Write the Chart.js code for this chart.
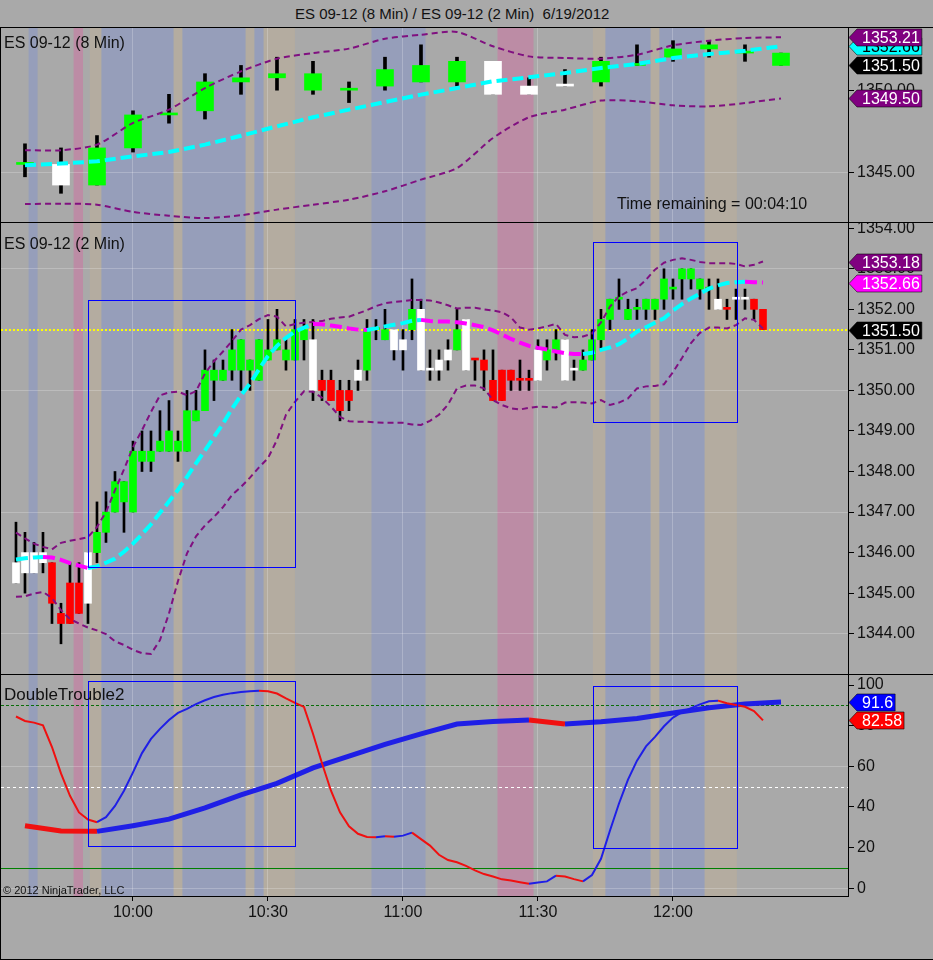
<!DOCTYPE html>
<html>
<head>
<meta charset="utf-8">
<title>ES 09-12 (8 Min) / ES 09-12 (2 Min)  6/19/2012</title>
<script src="https://cdn.jsdelivr.net/npm/chart.js@4.4.1/dist/chart.umd.min.js"></script>
<style>
  html, body { margin: 0; padding: 0; }
  body { width: 933px; height: 960px; background: #a9a9a9; position: relative; overflow: hidden;
         font-family: "Liberation Sans", Arial, sans-serif; color: #111; }
  canvas { position: absolute; left: 0; }
  .line { position: absolute; background: #000; }
  .txt { position: absolute; white-space: pre; font-size: 16px; line-height: 16px; }
</style>
</head>
<body>
<canvas id="top" width="933" height="194" style="top:28px"></canvas>
<canvas id="mid" width="933" height="451" style="top:223px"></canvas>
<canvas id="bot" width="933" height="285" style="top:675px"></canvas>

<div class="line" style="left:0;top:27px;width:933px;height:1px"></div>
<div class="line" style="left:0;top:222px;width:933px;height:1px"></div>
<div class="line" style="left:0;top:674px;width:933px;height:1px"></div>
<div class="line" style="left:0;top:27px;width:1px;height:933px"></div>
<div class="line" style="left:0;top:959px;width:933px;height:1px"></div>

<div class="txt" style="left:295px;top:6px;font-size:15px;line-height:15px">ES 09-12 (8 Min) / ES 09-12 (2 Min)  6/19/2012</div>
<div class="txt" style="left:4px;top:35px">ES 09-12 (8 Min)</div>
<div class="txt" style="left:617px;top:196px">Time remaining = 00:04:10</div>
<div class="txt" style="left:4px;top:236px">ES 09-12 (2 Min)</div>
<div class="txt" style="left:4px;top:686px;font-size:17px;line-height:17px">DoubleTrouble2</div>
<div class="txt" style="left:3px;top:885px;font-size:11px;line-height:11px">© 2012 NinjaTrader, LLC</div>

<script>
// ---- data ----
const timeTicks = ['10:00', '10:30', '11:00', '11:30', '12:00'];
const first8 = '9:36', first2 = '9:34';

// 8 min bars
const o8 = [1345.50, 1345.50, 1344.25, 1346.50, 1348.50, 1348.75, 1350.50, 1350.75, 1350.00, 1350.00, 1350.25,
            1350.50, 1350.50, 1351.75, 1350.25, 1350.25, 1350.50, 1351.50, 1352.00, 1352.50, 1352.25, 1352.25];
const h8 = [1346.75, 1346.50, 1347.25, 1348.75, 1349.75, 1351.00, 1351.50, 1352.00, 1351.75, 1350.50, 1352.00,
            1352.75, 1352.00, 1351.75, 1350.75, 1351.25, 1352.00, 1352.75, 1353.00, 1353.00, 1352.75, 1352.25];
const l8 = [1344.75, 1343.75, 1344.25, 1346.25, 1348.00, 1348.25, 1349.75, 1350.00, 1349.75, 1349.25, 1350.00,
            1350.50, 1350.25, 1349.75, 1349.75, 1350.25, 1350.25, 1351.50, 1351.75, 1352.00, 1351.75, 1351.50];
const c8 = [1345.50, 1344.25, 1346.50, 1348.50, 1348.50, 1350.50, 1350.75, 1351.00, 1351.00, 1350.00, 1351.25,
            1351.50, 1351.75, 1349.75, 1349.75, 1350.25, 1351.75, 1351.50, 1352.50, 1352.75, 1352.25, 1351.50];
const col8 = 'gwgggggggggggwwwgggggg'.split('');
const sma8 = [1345.45, 1345.55, 1345.69, 1345.99, 1346.25, 1346.70, 1347.24, 1347.81, 1348.36, 1348.82, 1349.28,
              1349.73, 1350.13, 1350.54, 1350.78, 1351.04, 1351.35, 1351.59, 1351.95, 1352.19, 1352.39, 1352.66];
const upper8 = [1346.36, 1346.36, 1346.70, 1348.01, 1348.82, 1350.13, 1351.14, 1351.91, 1352.25, 1352.52, 1353.12,
                1353.36, 1353.53, 1352.66, 1352.05, 1351.95, 1351.91, 1352.15, 1352.72, 1353.00, 1353.16, 1353.21];
const lower8 = [1343.10, 1343.12, 1343.06, 1342.62, 1342.39, 1342.25, 1342.42, 1342.76, 1343.06, 1343.36, 1343.87,
                1344.58, 1345.28, 1347.10, 1348.36, 1348.82, 1349.37, 1349.33, 1349.08, 1349.02, 1349.22, 1349.50];

// 2 min bars
const o2 = [1345.75, 1346.00, 1346.00, 1346.00, 1345.75, 1344.50, 1345.25, 1345.25, 1346.00, 1346.00,
            1346.50, 1347.00, 1347.25, 1347.00, 1348.25, 1348.25, 1348.50, 1348.50, 1348.50, 1348.50,
            1349.25, 1349.50, 1350.25, 1350.25, 1350.50, 1350.50, 1350.50, 1350.25, 1350.75, 1351.00,
            1350.75, 1350.75, 1351.25, 1351.25, 1350.25, 1350.25, 1350.00, 1350.00, 1350.50, 1350.50,
            1351.50, 1351.25, 1351.50, 1351.25, 1351.50, 1352.00, 1350.50, 1350.75, 1351.00, 1351.00,
            1351.75, 1350.75, 1350.75, 1350.25, 1350.50, 1350.50, 1350.25, 1350.25, 1351.00, 1350.75,
            1351.00, 1351.25, 1350.50, 1350.50, 1350.75, 1351.25, 1351.75, 1352.25, 1351.75, 1352.00,
            1352.00, 1352.00, 1352.25, 1352.50, 1352.75, 1352.75, 1352.50, 1352.50, 1352.25, 1352.00,
            1352.25, 1352.25, 1352.25, 1352.00];
const h2 = [1346.75, 1346.50, 1346.25, 1346.50, 1345.75, 1344.75, 1345.75, 1345.75, 1346.00, 1347.25,
            1347.50, 1348.00, 1347.75, 1348.75, 1349.00, 1349.00, 1349.50, 1349.75, 1349.00, 1350.00,
            1350.00, 1351.00, 1350.75, 1350.75, 1351.50, 1351.25, 1350.75, 1351.25, 1351.75, 1352.00,
            1351.25, 1351.75, 1351.75, 1351.75, 1350.50, 1350.50, 1350.25, 1350.25, 1350.75, 1351.75,
            1351.75, 1352.00, 1351.50, 1351.50, 1352.75, 1352.25, 1351.00, 1351.00, 1351.25, 1352.00,
            1351.75, 1350.75, 1351.00, 1351.00, 1350.50, 1350.50, 1350.75, 1350.50, 1351.25, 1351.25,
            1351.50, 1351.25, 1350.75, 1351.00, 1351.50, 1352.00, 1352.25, 1352.75, 1352.25, 1352.25,
            1352.25, 1352.25, 1353.00, 1352.75, 1353.00, 1353.00, 1352.75, 1352.75, 1352.75, 1352.25,
            1352.50, 1352.50, 1352.25, 1352.00];
const l2 = [1345.25, 1345.00, 1345.50, 1345.50, 1344.25, 1343.75, 1344.25, 1344.50, 1344.25, 1345.75,
            1346.25, 1347.00, 1346.50, 1347.00, 1348.00, 1348.00, 1348.50, 1348.50, 1348.25, 1348.50,
            1349.25, 1349.50, 1349.75, 1350.25, 1350.25, 1350.00, 1350.00, 1350.25, 1350.75, 1351.00,
            1350.50, 1350.75, 1350.75, 1349.75, 1349.75, 1349.75, 1349.25, 1349.50, 1350.00, 1350.25,
            1351.25, 1351.25, 1350.75, 1350.50, 1351.25, 1350.50, 1350.25, 1350.25, 1350.50, 1351.00,
            1350.50, 1350.25, 1350.00, 1349.75, 1349.75, 1350.00, 1350.00, 1350.00, 1350.25, 1350.50,
            1350.75, 1350.25, 1350.25, 1350.50, 1350.75, 1351.00, 1351.50, 1352.00, 1351.75, 1351.75,
            1351.75, 1351.75, 1352.00, 1352.25, 1352.25, 1352.50, 1352.25, 1352.00, 1352.00, 1351.75,
            1351.75, 1352.00, 1351.75, 1351.50];
const c2 = [1345.25, 1345.50, 1345.50, 1345.75, 1344.75, 1344.25, 1344.25, 1344.50, 1344.75, 1346.50,
            1347.00, 1347.75, 1347.75, 1348.50, 1348.50, 1348.50, 1348.75, 1349.00, 1348.75, 1349.50,
            1349.50, 1350.50, 1350.50, 1350.50, 1351.00, 1351.25, 1350.75, 1351.25, 1351.00, 1351.25,
            1351.00, 1351.50, 1351.50, 1350.00, 1350.00, 1349.75, 1349.50, 1349.75, 1350.25, 1351.50,
            1351.50, 1351.50, 1351.00, 1351.00, 1352.00, 1350.50, 1350.50, 1350.50, 1350.75, 1351.50,
            1350.50, 1350.75, 1350.50, 1349.75, 1349.75, 1350.25, 1350.25, 1350.25, 1350.25, 1351.00,
            1351.25, 1350.25, 1350.50, 1350.75, 1351.25, 1351.75, 1352.25, 1352.25, 1352.00, 1352.00,
            1352.25, 1352.25, 1352.75, 1352.50, 1353.00, 1353.00, 1352.75, 1352.50, 1352.00, 1352.00,
            1352.25, 1352.25, 1352.00, 1351.50];
const col2 = ('wwwwrrrrw' + 'gggggggggggggggggggggggg' + 'wrrrrwgggwwgwwwwgwrrrrrrrwggww' +
              'ggggggggggggggg' + 'wrwwrr').split('');
const sma2 = [1345.83, 1345.86, 1345.88, 1345.89, 1345.88, 1345.82, 1345.74, 1345.68, 1345.62, 1345.66,
              1345.75, 1345.85, 1346.02, 1346.22, 1346.45, 1346.70, 1346.98, 1347.26, 1347.55, 1347.87,
              1348.20, 1348.52, 1348.85, 1349.18, 1349.55, 1349.88, 1350.17, 1350.52, 1350.85, 1351.10,
              1351.30, 1351.45, 1351.55, 1351.64, 1351.63, 1351.60, 1351.57, 1351.53, 1351.50, 1351.49,
              1351.53, 1351.58, 1351.62, 1351.66, 1351.72, 1351.74, 1351.71, 1351.70, 1351.70, 1351.68,
              1351.65, 1351.61, 1351.56, 1351.48, 1351.38, 1351.27, 1351.18, 1351.10, 1351.05, 1351.01,
              1350.96, 1350.92, 1350.90, 1350.90, 1350.93, 1351.00, 1351.06, 1351.14, 1351.28, 1351.45,
              1351.56, 1351.67, 1351.78, 1351.97, 1352.13, 1352.27, 1352.39, 1352.51, 1352.59, 1352.65,
              1352.67, 1352.68, 1352.67, 1352.66];
const upper2 = [1346.49, 1346.35, 1346.22, 1346.14, 1346.08, 1346.24, 1346.29, 1346.33, 1346.38, 1346.63,
                1347.00, 1347.54, 1348.05, 1348.60, 1349.02, 1349.47, 1349.88, 1349.95, 1349.97, 1349.88,
                1349.98, 1350.42, 1350.72, 1350.96, 1351.22, 1351.50, 1351.61, 1351.76, 1351.86, 1351.82,
                1351.58, 1351.64, 1351.67, 1351.69, 1351.71, 1351.77, 1351.80, 1351.82, 1351.90, 1351.98,
                1352.08, 1352.15, 1352.18, 1352.20, 1352.23, 1352.23, 1352.22, 1352.17, 1352.10, 1352.02,
                1352.04, 1352.04, 1352.00, 1351.97, 1351.93, 1351.80, 1351.55, 1351.50, 1351.53, 1351.58,
                1351.64, 1351.37, 1351.31, 1351.33, 1351.40, 1351.68, 1352.07, 1352.32, 1352.44, 1352.52,
                1352.73, 1352.98, 1353.15, 1353.22, 1353.26, 1353.22, 1353.17, 1353.14, 1353.14, 1353.14,
                1353.12, 1353.06, 1353.10, 1353.18];
const lower2 = [1344.91, 1344.92, 1344.99, 1345.03, 1344.88, 1344.58, 1344.36, 1344.25, 1344.15, 1344.08,
                1343.99, 1343.81, 1343.72, 1343.60, 1343.52, 1343.50, 1343.84, 1344.50, 1345.30, 1345.98,
                1346.40, 1346.67, 1346.88, 1347.12, 1347.42, 1347.62, 1347.85, 1348.10, 1348.33, 1348.78,
                1349.40, 1349.72, 1349.98, 1349.97, 1349.82, 1349.60, 1349.35, 1349.24, 1349.23, 1349.23,
                1349.21, 1349.20, 1349.20, 1349.20, 1349.16, 1349.15, 1349.25, 1349.40, 1349.65, 1350.05,
                1350.12, 1350.12, 1350.05, 1349.76, 1349.64, 1349.56, 1349.53, 1349.57, 1349.60, 1349.59,
                1349.58, 1349.70, 1349.71, 1349.70, 1349.68, 1349.76, 1349.64, 1349.70, 1349.80, 1350.05,
                1350.10, 1350.11, 1350.15, 1350.45, 1350.80, 1351.17, 1351.42, 1351.55, 1351.55, 1351.53,
                1351.61, 1351.78, 1351.74, 1351.53];

// DoubleTrouble2: fast line on 2 min bars, slow line on 8 min bars
const fast = [84.5, 82.3, 81.5, 80.2, 69.5, 56.5, 45.5, 37.3, 33.8, 32.5,
              35.0, 40.5, 48.0, 57.0, 66.5, 73.5, 78.4, 82.8, 86.3, 88.3,
              90.6, 92.5, 94.1, 95.2, 96.0, 96.5, 96.9, 97.2, 96.9, 95.8,
              93.4, 91.2, 89.2, 76.0, 61.5, 48.0, 37.4, 30.5, 26.8, 25.2,
              25.1, 25.6, 25.4, 25.9, 27.4, 24.2, 21.0, 16.5, 13.9, 12.8,
              11.0, 8.8, 7.0, 5.8, 4.4, 3.8, 3.0, 2.2, 2.8, 3.4,
              6.2, 5.8, 4.5, 3.4, 6.5, 14.5, 28.4, 41.7, 53.5, 62.8,
              69.8, 74.5, 79.7, 84.0, 86.6, 88.6, 90.5, 92.0, 92.3, 91.0,
              90.2, 89.3, 87.2, 82.58];
const slow = [30.8, 28.2, 28.0, 30.8, 34.0, 39.6, 46.0, 51.6, 59.2, 65.0, 70.8,
              76.0, 80.8, 82.0, 82.8, 80.8, 81.9, 83.5, 86.2, 88.8, 90.6, 91.6];
const levels = [90, 50, 10];

// shaded time columns and boxes (minutes after midnight)
const blueBands = [[576.8, 578.8], [593, 609], [611, 625], [627, 629], [653, 665], [705, 715], [717, 727]];
const pinkBands = [[586.8, 588.9], [681, 689]];
const tanBands = [[590.4, 593], [609, 611], [625, 627], [629, 636], [702.2, 705], [715, 717], [727, 734.2]];
const boxStart = [590, 702.2], boxEnd = [636, 734.2];
const midBoxHi = [1352.23, 1353.65], midBoxLo = [1345.64, 1349.23];
const botBoxHi = [101.8, 99.4], botBoxLo = [20.7, 19.7];

// ---- helpers ----
function toMin(s) { const p = s.split(':').map(Number); return p[0] * 60 + p[1]; }
function hhmm(v) { const h = Math.floor(v / 60), m = Math.round(v % 60); return h + ':' + String(m).padStart(2, '0'); }
const t8 = o8.map((_, i) => toMin(first8) + 8 * i);
const t2 = o2.map((_, i) => toMin(first2) + 2 * i);

const COL = { g: '#00ff00', r: '#ff0000', w: '#ffffff' };
const BLUE = 'rgb(150,158,186)', PINK = 'rgb(188,140,165)', TAN = 'rgb(180,172,160)';
const faint = 'rgba(255,255,255,0.22)', clear = 'rgba(0,0,0,0)';
const PURPLE = '#801080', CYAN = '#00ffff', MAGENTA = '#ff00ff', UP = '#1f1fe6', DOWN = '#f01010';
const last = a => a[a.length - 1];
const slopeCol = (a, up, dn) => last(a) > a[a.length - 2] ? up : dn;

Chart.defaults.font.family = '"Liberation Sans", Arial, sans-serif';
Chart.defaults.font.size = 16;
Chart.defaults.color = '#111';

const panelCfg = {
  top: {
    hlines: [], boxes: [], fmt: v => v.toFixed(2),
    markers: [
      { v: last(sma8), bg: CYAN, fg: '#000' },
      { v: last(upper8), bg: '#800080', fg: '#fff' },
      { v: last(c8), bg: '#000', fg: '#fff' },
      { v: last(lower8), bg: '#800080', fg: '#fff' }
    ]
  },
  mid: {
    hlines: [{ v: last(c2), color: '#ffff00', dash: [2, 2], width: 2 }],
    boxes: boxStart.map((s, i) => [s, boxEnd[i], midBoxLo[i], midBoxHi[i]]),
    fmt: v => v.toFixed(2),
    markers: [
      { v: last(upper2), bg: '#800080', fg: '#fff' },
      { v: last(sma2), bg: slopeCol(sma2, CYAN, MAGENTA), fg: '#fff' },
      { v: last(c2), bg: '#000', fg: '#fff' }
    ]
  },
  bot: {
    hlines: [
      { v: levels[0], color: '#0a6e0a', dash: [3, 2], width: 1 },
      { v: levels[1], color: '#ffffff', dash: [3, 3], width: 1 },
      { v: levels[2], color: '#008000', dash: [], width: 1 }
    ],
    boxes: boxStart.map((s, i) => [s, boxEnd[i], botBoxLo[i], botBoxHi[i]]),
    fmt: v => String(Number(v.toFixed(2))),
    markers: [
      { v: last(slow), bg: slopeCol(slow, '#0000ff', '#ff0000'), fg: '#fff' },
      { v: last(fast), bg: slopeCol(fast, '#0000ff', '#ff0000'), fg: '#fff' }
    ]
  }
};

const panelPlugin = {
  id: 'panel',
  beforeDraw(chart) {
    const { ctx, chartArea: a, scales: { x } } = chart;
    ctx.save();
    ctx.beginPath(); ctx.rect(a.left, a.top, a.width, a.height); ctx.clip();
    [[tanBands, TAN], [blueBands, BLUE], [pinkBands, PINK]].forEach(([list, color]) => {
      ctx.fillStyle = color;
      list.forEach(([s, e]) => {
        const x0 = x.getPixelForValue(s), x1 = x.getPixelForValue(e);
        ctx.fillRect(x0, a.top, x1 - x0, a.height);
      });
    });
    ctx.restore();
  },
  beforeDatasetsDraw(chart) {
    const { ctx, chartArea: a, scales: { y } } = chart;
    const cfg = panelCfg[chart.canvas.id];
    ctx.save();
    cfg.hlines.forEach(h => {
      const py = Math.round(y.getPixelForValue(h.v)) + (h.width === 1 ? 0.5 : 0);
      ctx.strokeStyle = h.color; ctx.lineWidth = h.width; ctx.setLineDash(h.dash);
      ctx.beginPath(); ctx.moveTo(a.left, py); ctx.lineTo(a.right, py); ctx.stroke();
    });
    ctx.restore();
  },
  afterDatasetsDraw(chart) {
    const { ctx, scales: { x, y } } = chart;
    const cfg = panelCfg[chart.canvas.id];
    ctx.save();
    ctx.strokeStyle = '#0000ff'; ctx.lineWidth = 1;
    cfg.boxes.forEach(([s, e, lo, hi]) => {
      const x0 = Math.round(x.getPixelForValue(s)) + 0.5, x1 = Math.round(x.getPixelForValue(e)) + 0.5;
      const y0 = Math.round(y.getPixelForValue(hi)) + 0.5, y1 = Math.round(y.getPixelForValue(lo)) + 0.5;
      ctx.strokeRect(x0, y0, x1 - x0, y1 - y0);
    });
    ctx.restore();
  },
  afterDraw(chart) {
    const { ctx, chartArea: a, scales: { y } } = chart;
    const cfg = panelCfg[chart.canvas.id];
    ctx.save();
    ctx.font = '16px "Liberation Sans", Arial, sans-serif';
    ctx.textBaseline = 'middle';
    cfg.markers.forEach(m => {
      const text = cfg.fmt(m.v);
      const cy = Math.round(y.getPixelForValue(m.v)) + 0.5;
      const left = a.right + 1, tip = 8, hh = 8.5;
      const tx = left + 13, right = tx + ctx.measureText(text).width + 2;
      ctx.beginPath();
      ctx.moveTo(left, cy); ctx.lineTo(left + tip, cy - hh); ctx.lineTo(right, cy - hh);
      ctx.lineTo(right, cy + hh); ctx.lineTo(left + tip, cy + hh); ctx.closePath();
      ctx.fillStyle = m.bg; ctx.fill();
      ctx.strokeStyle = 'rgba(0,0,0,0.55)'; ctx.lineWidth = 1; ctx.stroke();
      ctx.fillStyle = m.fg; ctx.fillText(text, tx, cy + 1);
    });
    ctx.restore();
  }
};

function xAxis(showLabels) {
  return {
    type: 'linear', min: 570.67, max: 758.89, offset: false,
    afterBuildTicks: s => { s.ticks = timeTicks.map(v => ({ value: toMin(v) })); },
    afterFit: s => { s.height = showLabels ? 64 : 0; s.paddingLeft = 0; s.paddingRight = 0; },
    grid: { offset: false, color: faint, drawTicks: showLabels, tickLength: 5, tickColor: '#000' },
    border: { display: showLabels, color: '#000' },
    ticks: { display: showLabels, padding: 2, maxRotation: 0, autoSkip: false, callback: v => hhmm(v) }
  };
}

function yAxis(min, max, step, gridAt, fmt) {
  return {
    position: 'right', min, max,
    // fixed axis width, and no extra room for the end labels
    afterFit: s => { s.width = 85; s.paddingTop = 0; s.paddingBottom = 0; },
    grid: { color: c => (c.tick && gridAt.includes(c.tick.value)) ? faint : clear, tickColor: '#000', tickLength: 6 },
    border: { display: true, color: '#000', width: 1 },
    ticks: { stepSize: step, includeBounds: false, padding: 3, autoSkip: false, callback: fmt }
  };
}

function candles(t, o, h, l, c, col, bodyW, wickW) {
  return [
    { type: 'bar', data: t.map((x, i) => ({ x, y: [Math.min(o[i], c[i]), Math.max(o[i], c[i])] })),
      backgroundColor: col.map(k => COL[k]), barThickness: bodyW, minBarLength: 2, grouped: false,
      borderWidth: 0, order: 2 },
    { type: 'bar', data: t.map((x, i) => ({ x, y: [l[i], h[i]] })),
      backgroundColor: '#000', barThickness: wickW, grouped: false, borderWidth: 0, order: 3 }
  ];
}

function line(t, v, color, width, dash, tension, seg) {
  const ds = { type: 'line', data: t.map((x, i) => ({ x, y: v[i] })), borderColor: color, borderWidth: width,
               borderDash: dash, pointRadius: 0, tension, order: 1, borderCapStyle: 'butt' };
  if (seg) ds.segment = { borderColor: seg };
  return ds;
}
const slopeSeg = (up, dn) => ctx => ctx.p1.parsed.y > ctx.p0.parsed.y ? up : dn;

function makeChart(id, datasets, y) {
  return new Chart(document.getElementById(id), {
    type: 'bar',
    data: { datasets },
    options: {
      responsive: false, animation: false, events: [],
      layout: { padding: { left: 1 }, autoPadding: false },
      plugins: { legend: { display: false }, tooltip: { enabled: false } },
      scales: { x: xAxis(id === 'bot'), y }
    },
    plugins: [panelPlugin]
  });
}

makeChart('top', [
  line(t8, sma8, CYAN, 4, [11, 5], 0, slopeSeg(CYAN, MAGENTA)),
  line(t8, upper8, PURPLE, 2, [6, 4], 0.25),
  line(t8, lower8, PURPLE, 2, [6, 4], 0.25),
  ...candles(t8, o8, h8, l8, c8, col8, 17, 3)
], yAxis(1342.01, 1353.77, 5, [1345], v => v.toFixed(2)));

makeChart('mid', [
  line(t2, sma2, CYAN, 4, [12, 5], 0, slopeSeg(CYAN, MAGENTA)),
  line(t2, upper2, PURPLE, 2, [6, 4], 0),
  line(t2, lower2, PURPLE, 2, [6, 4], 0),
  ...candles(t2, o2, h2, l2, c2, col2, 7, 2)
], yAxis(1343.005, 1354.13, 1, [1344, 1347, 1350, 1353], v => v.toFixed(2)));

makeChart('bot', [
  line(t2, fast, DOWN, 2, [], 0, slopeSeg(UP, DOWN)),
  line(t8, slow, DOWN, 5, [], 0, slopeSeg(UP, DOWN))
], yAxis(-3.79, 104.92, 20, [0, 60], v => String(v)));
</script>
</body>
</html>
